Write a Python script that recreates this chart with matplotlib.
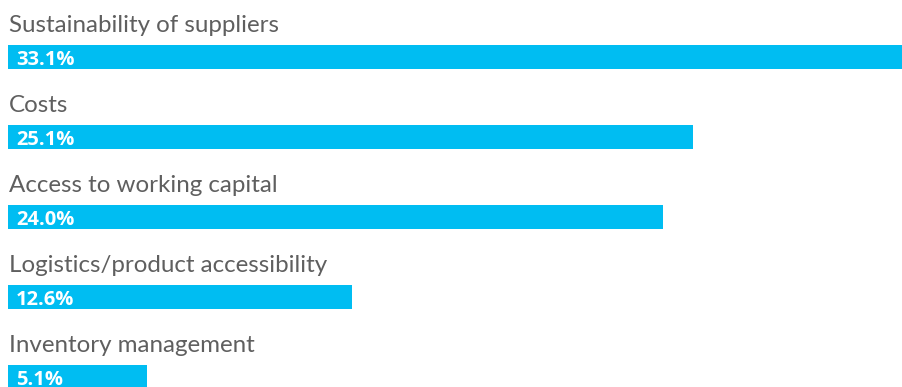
import matplotlib.pyplot as plt

# Survey answers, in the order they are listed
categorias = ["Sustainability of suppliers", "Costs", "Access to working capital",
              "Logistics/product accessibility", "Inventory management"]
valores = [33.1, 25.1, 24.0, 12.6, 5.1]
etiquetas = ["33.1%", "25.1%", "24.0%", "12.6%", "5.1%"]

azul = "#00BDF2"
gris = "#5f5f5f"

fig = plt.figure(figsize=(9.03, 3.87), dpi=100)
ax = fig.add_axes([0, 0, 1, 1])

posiciones = list(range(len(valores)))
ax.barh(posiciones, valores, height=0.3, color=azul, align="center")

for i, (cat, etq) in enumerate(zip(categorias, etiquetas)):
    # nombre de la categoria encima de la barra
    ax.text(0.04, i - 0.15 - 13 / 80, cat, fontsize=17.4, color=gris,
            family="Lato", va="baseline", ha="left")
    # porcentaje dentro de la barra
    ax.text(0.29, i + 0.15 - 4 / 80, etq, fontsize=14.5, color="white",
            family="Open Sans", fontweight="bold", va="baseline", ha="left")

ax.set_xlim(-8 / 27.3, (903 - 8) / 27.3)
ax.set_ylim((387 - 57) / 80, -57 / 80)
ax.axis("off")

fig.savefig("out.png", dpi=100)
